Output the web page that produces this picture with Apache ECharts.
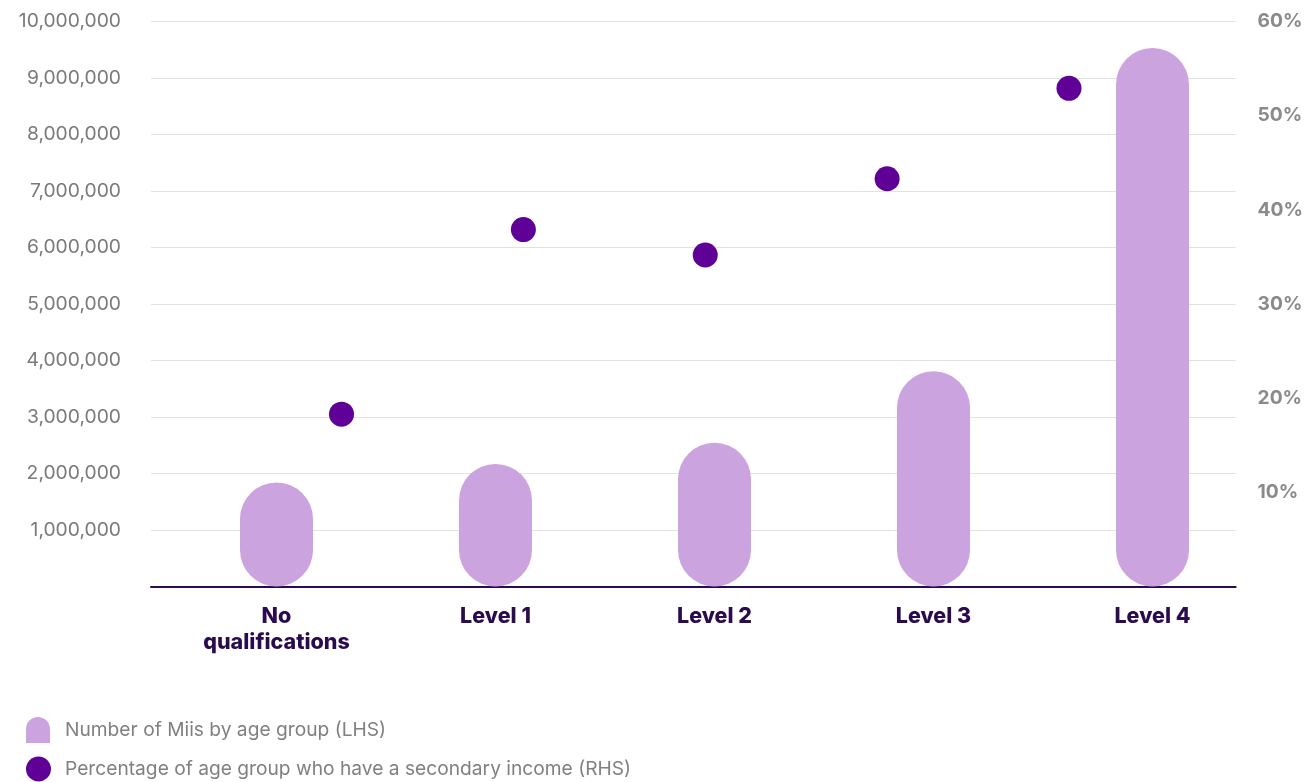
<!DOCTYPE html>
<html>
<head>
<meta charset="utf-8">
<script src="https://cdn.jsdelivr.net/npm/echarts@6/dist/echarts.min.js"></script>
<style>
html,body{margin:0;padding:0;background:#fff;}
#chart{width:1306px;height:782px;}
</style>
</head>
<body>
<div id="chart"></div>
<script>
const categories = ['No\nqualifications', 'Level 1', 'Level 2', 'Level 3', 'Level 4'];
const miisCount = [1840000, 2170000, 2545000, 3810000, 9530000];
const secondaryIncomePct = [18.3, 37.9, 35.2, 43.3, 52.9];
const barName = 'Number of Miis by age group (LHS)';
const dotName = 'Percentage of age group who have a secondary income (RHS)';

const FONT = 'Inter, "Noto Sans", sans-serif';
const TOP = 21.5, BOTTOM = 195.5;

const chart = echarts.init(document.getElementById('chart'), null, {renderer: 'canvas'});
chart.setOption({
  animation: false,
  backgroundColor: '#ffffff',
  grid: [
    {left: 151, right: 68, top: TOP, bottom: BOTTOM},
    {left: 167, right: 44, top: TOP, bottom: BOTTOM},
    {left: 341.5, right: 237, top: TOP, bottom: BOTTOM}
  ],
  legend: [
    {
      data: [barName], left: 21, top: 712, orient: 'vertical',
      itemWidth: 24, itemHeight: 26,
      icon: 'path://M0,12A12,12,0,0,1,24,12L24,26L0,26Z',
      textStyle: {color: '#808080', fontSize: 19.2, fontFamily: FONT, padding: [0,0,0,10]},
      selectedMode: false
    },
    {
      data: [dotName], left: 21, top: 751.5, orient: 'vertical',
      itemWidth: 25, itemHeight: 25, icon: 'circle',
      textStyle: {color: '#808080', fontSize: 19.2, fontFamily: FONT, padding: [0,0,0,9]},
      selectedMode: false
    }
  ],
  xAxis: [
    {gridIndex: 0, type: 'category', data: categories,
     axisLine: {show: true, lineStyle: {color: '#2a0c4e', width: 2}},
     axisTick: {show: false}, axisLabel: {show: false}, splitLine: {show: false}},
    {gridIndex: 1, type: 'category', data: categories,
     axisLine: {show: false}, axisTick: {show: false}, splitLine: {show: false},
     axisLabel: {color: '#2a0c4e', fontSize: 21.5, fontWeight: 800, fontFamily: FONT,
                 lineHeight: 26, margin: 17, interval: 0}},
    {gridIndex: 2, type: 'category', data: categories, boundaryGap: false, show: false}
  ],
  yAxis: [
    {gridIndex: 0, type: 'value', min: 0, max: 10000000, interval: 1000000, position: 'left',
     axisLine: {show: false}, axisTick: {show: false},
     splitLine: {show: true, lineStyle: {color: '#e2e2e2', width: 1}},
     axisLabel: {color: '#7a7a7a', fontSize: 19.3, fontFamily: FONT, margin: 30,
                 formatter: v => v === 0 ? '' : v.toLocaleString('en-US')}},
    {gridIndex: 0, type: 'value', min: 0, max: 60, interval: 10, position: 'right',
     axisLine: {show: false}, axisTick: {show: false}, splitLine: {show: false},
     axisLabel: {color: '#8a8a8a', fontSize: 19.2, fontWeight: 700, fontFamily: FONT, margin: 22,
                 formatter: v => v === 0 ? '' : v + '%'}},
    {gridIndex: 1, type: 'value', min: 0, max: 10000000, show: false},
    {gridIndex: 2, type: 'value', min: 0, max: 60, show: false}
  ],
  series: [
    {
      name: barName, type: 'bar', xAxisIndex: 1, yAxisIndex: 2,
      data: miisCount, barWidth: 73,
      itemStyle: {color: '#cba3df', borderRadius: 36.5},
      silent: true
    },
    {
      name: dotName, type: 'scatter', xAxisIndex: 2, yAxisIndex: 3,
      data: secondaryIncomePct, symbol: 'circle', symbolSize: 25, clip: false,
      itemStyle: {color: '#5f0097', opacity: 1},
      silent: true
    }
  ]
});
</script>
</body>
</html>
